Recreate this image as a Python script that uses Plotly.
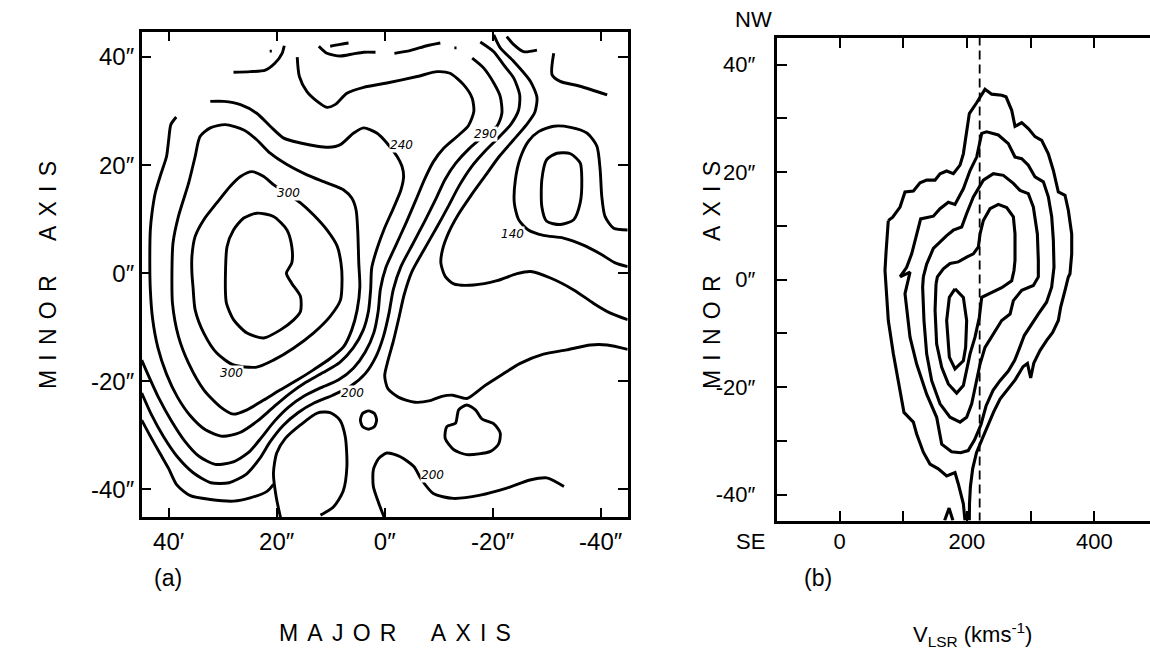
import plotly.graph_objects as go

# ---------------- Panel (a): velocity-field contours, (major-axis ", minor-axis ") ----------------
a_inner = [(29.5,-3.1),(29.2,4.9),(28.0,8.0),(26.1,10.2),(23.7,11.1),(20.6,10.5),(18.1,8.0),(17.2,4.9),
           (17.2,1.9),(18.2,0.0),(17.2,-1.9),(15.6,-4.3),(15.6,-7.1),(16.9,-8.7),(19.3,-10.5),(22.4,-12.0),
           (25.5,-11.1),(28.0,-8.6),(29.3,-5.6),(29.5,-3.1)]
a_300 = [(24.6,18.8),(26.7,17.9),(28.6,16.1),(31.1,13.0),(33.5,9.9),(35.1,6.8),(35.7,3.1),(35.7,0),(35.5,-2.5),
         (35.1,-6.8),(33.5,-11.1),(31.1,-14.8),(28.0,-17.0),(23.7,-17.4),(20.6,-16.1),(16.9,-13.9),(13.2,-11.1),
         (10.1,-8.0),(8.2,-5.0),(7.9,-1.2),(8.1,1.9),(8.8,5.0),(10.7,8.0),(13.2,10.8),(15.6,13.0),(18.1,14.8),
         (20.6,16.4),(22.4,17.9),(24.6,18.8)]
a_280 = [(29.5,27.5),(32.3,26.9),(34.2,25.3),(35.1,21.6),(36.3,16.7),(38.2,10.5),(39.2,5.6),(39.4,0),(39.3,-5.6),
         (38.2,-11.7),(36.3,-16.7),(33.5,-21.6),(30.5,-24.7),(28.0,-26.1),(25.5,-25.3),(22.4,-23.5),(19.3,-21.6),
         (16.2,-19.8),(13.2,-17.9),(10.1,-15.8),(7.6,-13.6),(6.1,-10.5),(5.1,-6.8),(4.6,-2.5),(4.8,1.9),(5.0,8.0),
         (5.3,11.7),(6.1,13.9),(7.6,15.4),(10.7,16.7),(14.4,18.2),(18.1,20.1),(21.2,22.2),(23.7,24.7),(26.1,26.5),
         (29.5,27.5)]
a_240 = [(32.3,31.8),(29.8,31.8),(26.7,31.2),(23.7,29.6),(21.2,27.2),(18.7,25.0),(15.6,24.1),(12.5,23.5),
         (10.4,23.3),(8.2,23.8),(5.8,25.9),(3.9,26.9),(1.4,25.9),(-0.4,24.1),(-2.3,21.6),(-3.2,19.8),(-3.5,17.9),
         (-3.0,15.4),(-1.6,12.0),(0.0,8.4),(1.4,4.6),(2.4,1.0),(2.6,-3.0),(3.0,-7.0),(4.0,-10.6),(5.8,-13.8),
         (8.3,-16.5),(11.4,-18.4),(14.6,-20.2),(17.6,-22.3),(20.6,-24.8),(23.6,-27.4),(26.8,-29.5),(30.0,-30.2),
         (33.2,-29.0),(36.0,-26.4),(38.4,-22.9),(40.4,-18.7),(42.0,-13.8),(43.0,-8.3),(43.4,-3.1),(43.5,1.9),
         (43.4,8.0),(43.1,11.1),(42.5,14.8),(41.4,18.5),(40.4,21.6),(40.0,24.7),(39.6,27.5),(38.6,28.9)]
a_u3 = [(16.2,40.0),(15.8,36.4),(14.4,33.6),(12.5,31.8),(10.7,30.7),(9.2,31.2),(7.0,33.3),(3.9,34.4),(-0.4,35.2),
        (-6.0,36.4),(-9.7,37.3),(-12.1,37.0),(-14.6,34.9),(-16.2,32.4),(-16.5,29.9),(-15.5,27.3),(-13.4,25.3),
        (-11.0,23.2),(-9.0,20.6),(-7.4,17.4),(-5.8,13.6),(-4.0,9.4),(-2.0,5.0),(-0.2,1.0),(0.8,-3.0),(1.2,-7.0),
        (2.0,-11.0),(3.6,-14.6),(5.8,-17.6),(8.6,-19.8),(11.8,-21.2),(15.0,-22.8),(17.8,-24.8),(20.4,-27.4),
        (22.8,-30.4),(25.2,-33.2),(28.2,-35.0),(31.4,-35.4),(34.4,-33.9),(37.1,-31.0),(39.6,-27.2),(41.8,-23.2),
        (43.6,-19.3),(45.0,-16.1)]
a_u4 = [(-16.2,39.8),(-18.3,38.0),(-20.2,35.2),(-21.4,32.7),(-21.7,29.6),(-20.8,27.2),(-18.3,25.3),(-15.6,23.0),
        (-13.2,20.4),(-11.2,17.4),(-9.5,13.8),(-7.4,9.6),(-5.2,5.4),(-3.0,1.2),(-1.6,-3.0),(-0.8,-7.4),(0.2,-11.6),
        (1.6,-15.4),(3.6,-18.6),(6.4,-21.0),(9.6,-22.6),(13.0,-24.0),(16.0,-25.8),(18.8,-28.2),(21.2,-31.2),
        (23.2,-34.4),(25.6,-37.2),(28.8,-38.8),(32.2,-38.8),(35.4,-37.0),(38.4,-34.0),(41.0,-30.2),(43.2,-26.2),
        (45.0,-22.2)]
a_u5 = [(45.0,-27.2),(43.4,-30.2),(41.6,-33.4),(40.0,-36.2),(38.5,-39.2),(36.0,-41.2),(32.3,-41.9),(28.0,-42.2),
        (24.9,-41.6),(21.8,-40.4),(20.6,-39.1)]
a_long = [(-17.7,42.8),(-20.2,41.0),(-22.0,38.6),(-23.9,36.1),(-25.0,33.0),(-24.8,30.2),(-23.4,27.6),(-21.2,25.2),
          (-18.6,22.6),(-16.0,19.6),(-13.8,16.2),(-11.8,12.4),(-9.6,8.4),(-7.2,4.2),(-5.0,0.2),(-3.6,-4.0),
          (-2.6,-8.4),(-1.6,-12.6),(-0.6,-16.2),(0.0,-19.0),(-0.6,-21.4),(-2.6,-23.0),(-5.6,-23.9),(-8.4,-23.6),
          (-10.6,-22.8),(-12.6,-22.6),(-15.2,-23.2),(-18.3,-21.0),(-21.4,-19.0),(-25.1,-16.7),(-29.4,-15.0),
          (-33.7,-14.2),(-38.1,-13.3),(-41.2,-13.3),(-45.0,-14.1)]
a_mid = [(-20.2,44.1),(-21.4,41.7),(-23.9,39.2),(-27.0,35.5),(-28.2,32.5),(-27.8,29.8),(-26.2,27.4),(-23.8,24.6),
         (-21.2,21.6),(-18.6,18.0),(-16.0,14.4),(-13.6,10.8),(-11.8,7.4),(-10.7,4.3),(-10.4,1.9),(-11.2,-0.6),
         (-12.8,-2.0),(-16.5,-2.2),(-20.8,-1.4),(-24.5,-0.1),(-27.0,0.3),(-30.7,-0.9),(-35.0,-3.1),(-38.7,-5.6),
         (-41.8,-7.4),(-45.0,-8.6)]
a_top1 = [(28.0,37.2),(24.9,37.3),(22.1,37.6),(20.3,38.9),(19.0,40.7),(18.6,42.1)]
a_top2 = [(12.2,42.0),(10.7,40.7),(8.2,40.2),(5.8,40.6),(3.9,40.9),(1.7,40.9)]
a_top3 = [(10.1,42.0),(8.5,42.3),(6.7,42.6)]
a_top4 = [(-1.8,40.7),(-4.7,41.2),(-7.8,42.1),(-10.3,42.6)]
a_top5 = [(-22.6,43.8),(-23.9,42.3),(-25.7,41.0),(-28.2,41.3)]
a_dot1 = [(-12.9,41.7),(-13.3,41.7)]
a_dot2 = [(21.3,41.1),(20.9,41.1)]
a_topright = [(-31.3,40.7),(-31.0,36.7),(-32.5,35.5),(-36.2,34.6),(-41.2,33.0)]
a_right_in = [(-30.0,21.0),(-31.9,22.2),(-34.4,22.1),(-36.2,20.4),(-36.5,17.3),(-36.2,13.0),(-35.0,9.9),
              (-32.5,9.0),(-30.0,9.6),(-29.1,12.3),(-29.1,17.3),(-30.0,21.0)]
a_140 = [(-45.0,8.0),(-42.4,8.3),(-40.8,10.5),(-40.2,14.2),(-39.9,19.1),(-39.3,23.5),(-37.5,25.9),(-34.4,27.0),
         (-31.3,27.2),(-28.5,26.2),(-26.6,24.4),(-25.1,21.3),(-24.2,17.3),(-24.0,13.0),(-24.8,9.9),(-26.6,8.0),
         (-29.4,7.0),(-33.1,6.5),(-36.8,5.2),(-39.9,3.6),(-42.7,1.9),(-45.0,1.2)]
a_bean = [(-11.5,-28.4),(-13.1,-27.8),(-13.7,-25.3),(-15.2,-24.4),(-16.8,-25.3),(-18.0,-27.0),(-20.2,-27.9),
          (-21.4,-29.6),(-21.1,-31.6),(-19.6,-33.0),(-15.2,-33.6),(-12.8,-32.7),(-11.2,-30.6),(-11.5,-28.4)]
a_ring = [(4.5,-27.2),(4.1,-26.0),(3.0,-25.5),(1.9,-26.0),(1.5,-27.2),(1.9,-28.4),(3.0,-28.9),(4.1,-28.4),(4.5,-27.2)]
a_arch = [(11.9,-44.8),(9.5,-43.3),(7.7,-40.4),(7.0,-35.8),(7.3,-30.3),(8.3,-27.2),(10.1,-25.8),(12.5,-25.9),
          (15.6,-28.1),(18.4,-30.6),(20.0,-33.3),(20.6,-37.0),(20.1,-41.4),(19.3,-45.2)]
a_200 = [(0.1,-45.2),(1.1,-42.6),(2.1,-39.5),(2.1,-36.4),(1.1,-34.3),(-0.4,-33.3),(-2.9,-34.0),(-5.4,-35.8),
         (-6.8,-38.2),(-9.0,-40.8),(-12.7,-41.7),(-17.7,-41.1),(-22.6,-39.8),(-26.9,-38.3),(-30.0,-37.9),(-33.2,-39.5)]
contours_a = [a_inner, a_300, a_280, a_240, a_u3, a_u4, a_u5, a_long, a_mid, a_top1, a_top2, a_top3, a_top4,
              a_top5, a_dot1, a_dot2, a_topright, a_right_in, a_140, a_bean, a_ring, a_arch, a_200]

labels_a = [(17.8, 14.8, "300"), (28.4, -18.5, "300"), (-3.2, 23.8, "240"), (-18.6, 25.8, "290"),
            (-23.6, 7.3, "140"), (5.9, -22.2, "200"), (-8.8, -37.4, "200")]

# tick values / labels
ticks_a = [40, 20, 0, -20, -40]
ticktext_a_x = ["40′", "20″", "0″", "-20″", "-40″"]
ticktext_a_y = ["40″", "20″", "0″", "-20″", "-40″"]
ticks_b_x = [0, 200, 400]
minor_b_x = [100, 300]
ticks_b_y = [40, 20, 0, -20, -40]
ticktext_b_y = ["40″", "20″", "0″", "-20″", "-40″"]
minor_b_y = [30, 10, -10, -30]

# ---------------- Panel (b): position-velocity contours (km/s, ") ----------------
b_1 = [(76.6,11.0),(83.5,11.6),(95,13.5),(102.8,16.3),(116,16.5),(126.4,18.0),(136.8,18.5),(149.9,18.5),
       (157.8,19.7),(168.2,20.2),(178.7,19.7),(189.2,21.3),(194.4,23.4),(199.6,27.8),(203.8,30.9),(215.3,32.9),
       (228.4,35.4),(238.9,34.5),(254.6,34.3),(261.4,34.0),(270.3,31.5),(275.5,28.5),(286,29.2),(296.4,28.1),
       (306.9,26.6),(317.4,25.9),(327.8,23.4),(335.7,20.3),(343.5,16.3),(354,15.7),(359.2,12.9),(364.5,8.5),
       (364.5,4.8),(361.8,1.1),(359.2,0.5),(354,-2.0),(347.2,-5.1),(343.5,-7.6),(334.6,-9.8),(325.2,-11.3),
       (314.7,-13.2),(305,-15.5),(300.1,-18.3),(295,-15.6),(288,-16.2),(276,-18.6),(264,-20.4),(252,-22.2),
       (242,-24.6),(233,-27.0),(224,-29.6),(215,-32.2),(209,-35.2),(205.5,-38.5),(204,-41.7),(203.8,-44.8)]
b_1l = [(197,-44.8),(194.4,-41.7),(186.5,-38.0),(181.3,-35.9),(168.2,-36.5),(155.1,-35.2),(142,-34.3),
        (131.6,-32.1),(121.1,-28.7),(115.9,-26.5),(101.2,-24.7),(92.4,-18.8),(84.5,-13.8),(76.6,-7.6),(73,-2.0),
        (71.4,1.7),(73,5.0),(76.6,11.0)]
b_2 = [(95,0.5),(105.4,2.3),(113.3,4.8),(121.1,8.5),(127.4,11.3),(147.3,11.8),(157.8,13.2),(170.8,14.4),
       (181.3,14.0),(194.4,16.9),(204.9,20.3),(215.3,22.8),(223.2,27.2),(231,27.5),(249.3,26.9),(265,25.3),
       (275.5,22.8),(286,22.5),(296.4,21.3),(306.9,19.1),(320,18.2),(327.8,15.4),(333.1,11.7),(335.7,7.3),
       (336.7,2.3),(333,-1.4),(325,-4.2),(312,-6.4),(300,-8.6),(290,-10.4),(283,-12.6),(275,-15),(265,-17),
       (252,-18.8),(241,-20.6),(230,-23.5),(222,-27),(212,-29.8),(202,-31.8),(190,-32.2),(176,-32.0),
       (160.4,-30.6),(152.5,-25.6),(136.8,-21.3),(121.1,-15.7),(110.7,-10.7),(102.8,-2.6),(110.7,1.4),(95,0.5)]
b_3 = [(131.6,0.5),(136.8,2.9),(147.3,5.8),(157.8,7.0),(168.2,8.2),(178.7,9.2),(191.8,9.8),(199.6,12.3),
       (210.1,15.4),(225.8,18.5),(241.5,19.7),(257.2,19.4),(272.9,17.9),(283.4,16.6),(296.4,16.0),(304.3,13.5),
       (310.6,8.5),(312.1,3.6),(312.1,0.5),(304.3,-1.1),(286,-2.0),(272.9,-3.9),(267.7,-6.4),(254.6,-7.6),
       (241.5,-10.1),(228.4,-12.6),(220.6,-15.7),(215.3,-18.8),(207.5,-23.1),(199.6,-25.6),(189.2,-26.5),
       (173.5,-25.6),(157.8,-23.1),(144.7,-18.8),(136.8,-13.8),(132.6,-7.6),(130.5,-1.4),(131.6,0.5)]
b_4 = [(151.5,-0.8),(150,-5.7),(152.5,-12),(160.4,-16.3),(170.8,-19.4),(183.9,-21.1),(194.4,-19.7),(199.6,-16.9),
       (204.9,-13.8),(212.7,-10.7),(219.5,-7),(223.2,-3.3),(236.3,-2.5),(254.6,-1.5),(270.3,-0.2),(273.9,1.7),
       (275.5,3.6),(275.5,8.5),(272.9,11.7),(262.4,13.4),(249.3,14.0),(236.3,13.2),(225.8,11.0),(220.6,8.5),
       (218,6.1),(210.1,4.8),(199.6,4.2),(186.5,3.3),(173.5,3.0),(163,2.0),(153.6,0.5),(151.5,-0.8)]
b_5 = [(181.3,-1.7),(194.4,-3.3),(199.6,-7.6),(198,-12.6),(194.4,-15.1),(181.3,-16.6),(172.4,-14.4),
       (168.2,-7.6),(172.4,-3.3),(181.3,-1.7)]
b_spike = [(165,-44.8),(172,-42.5),(178,-44.8)]
contours_b = [b_1, b_1l, b_2, b_3, b_4, b_5, b_spike]
v_sys = 220

# ---------------- figure ----------------
W, H = 1150, 658
def fx(px):
    return px / W
def fy(py):
    return 1 - py / H

fig = go.Figure()
for pts in contours_a:
    fig.add_trace(go.Scatter(x=[p[0] for p in pts], y=[p[1] for p in pts], mode="lines",
                             line=dict(color="black", width=2.9, shape="spline", smoothing=0.7),
                             xaxis="x", yaxis="y", hoverinfo="skip", showlegend=False))
for pts in contours_b:
    fig.add_trace(go.Scatter(x=[p[0] for p in pts], y=[p[1] for p in pts], mode="lines",
                             line=dict(color="black", width=3.1),
                             xaxis="x2", yaxis="y2", hoverinfo="skip", showlegend=False))
fig.add_trace(go.Scatter(x=[v_sys, v_sys], y=[-45, 45], mode="lines",
                         line=dict(color="black", width=1.8, dash="9px,5px"),
                         xaxis="x2", yaxis="y2", hoverinfo="skip", showlegend=False))

for x, y, t in labels_a:
    fig.add_annotation(x=x, y=y, xref="x", yref="y", text=t, showarrow=False, bgcolor="white",
                       xanchor="center", yanchor="middle", borderpad=0,
                       font=dict(family="DejaVu Sans", size=12, color="black", style="italic"))

tick_a = dict(family="Liberation Sans", size=24, color="black")
tick_b = dict(family="Liberation Sans", size=22, color="black")
common = dict(showgrid=False, zeroline=False, showline=True, linecolor="black", ticks="inside",
              tickcolor="black", tickwidth=2)
minor_style = dict(ticks="inside", ticklen=10, tickwidth=2, tickcolor="black", showgrid=False)
rng_b_y = [-44.8, 45.0]

fig.update_layout(
    width=W, height=H, margin=dict(l=0, r=0, t=0, b=0),
    paper_bgcolor="white", plot_bgcolor="white", showlegend=False,
    xaxis=dict(domain=[fx(141.7), fx(627.7)], range=[45, -45], tickvals=ticks_a, ticktext=ticktext_a_x,
               ticklen=10, linewidth=2.5, mirror="ticks", tickfont=tick_a, ticklabelstandoff=1, anchor="y",
               **common),
    yaxis=dict(domain=[fy(517.3), fy(31.7)], range=[-45.2, 44.7], tickvals=ticks_a, ticktext=ticktext_a_y,
               ticklen=10, linewidth=2.5, mirror="ticks", tickfont=tick_a, ticklabelstandoff=0, anchor="x",
               **common),
    xaxis2=dict(domain=[fx(776.7), 1.0], range=[-98.6, 487.4], tickvals=ticks_b_x,
                minor=dict(tickvals=minor_b_x, **minor_style),
                ticklen=10, linewidth=3, mirror="ticks", tickfont=tick_b, ticklabelstandoff=-1, anchor="y2",
                **common),
    yaxis2=dict(domain=[fy(520.5), fy(37.7)], range=rng_b_y, tickvals=ticks_b_y, ticktext=ticktext_b_y,
                minor=dict(tickvals=minor_b_y, **minor_style),
                ticklen=10, linewidth=3, mirror=False, tickfont=tick_b, ticklabelstandoff=14, anchor="x2",
                **common),
    yaxis3=dict(overlaying="y2", side="right", anchor="x2", range=rng_b_y,
                tickvals=list(range(-40, 41, 10)), ticks="inside", ticklen=4, tickwidth=2, tickcolor="black",
                showticklabels=False, showline=False, showgrid=False, zeroline=False),
)

txt = dict(family="Liberation Sans", size=23, color="black")
sp = "\u2009\u2009"
axis_word_minor = sp.join("MINOR") + "\u2003\u2002" + sp.join("AXIS")
texts = [
    (48, 275, axis_word_minor, -90, txt),
    (712, 275, axis_word_minor, -90, txt),
    (395, 633, sp.join("MAJOR") + "\u2003\u2002" + sp.join("AXIS"), 0, txt),
    (168, 578, "(a)", 0, txt),
    (818, 578, "(b)", 0, txt),
    (754, 20, "NW", 0, tick_b),
    (750, 541, "SE", 0, tick_b),
    (972, 634, "V<sub>LSR</sub> (kms<sup>-1</sup>)", 0, dict(family="Liberation Sans", size=22, color="black")),
]
for px, py, t, ang, f in texts:
    fig.add_annotation(x=fx(px), y=fy(py), xref="paper", yref="paper", showarrow=False, text=t,
                       textangle=ang, xanchor="center", yanchor="middle", font=f)

# remove the browser's default 8 px page margin so the 1150x658 figure fills the window exactly
fig.write_html("out.html", config={"displayModeBar": False},
               post_script="document.body.style.margin='0px';document.body.style.overflow='hidden';")
